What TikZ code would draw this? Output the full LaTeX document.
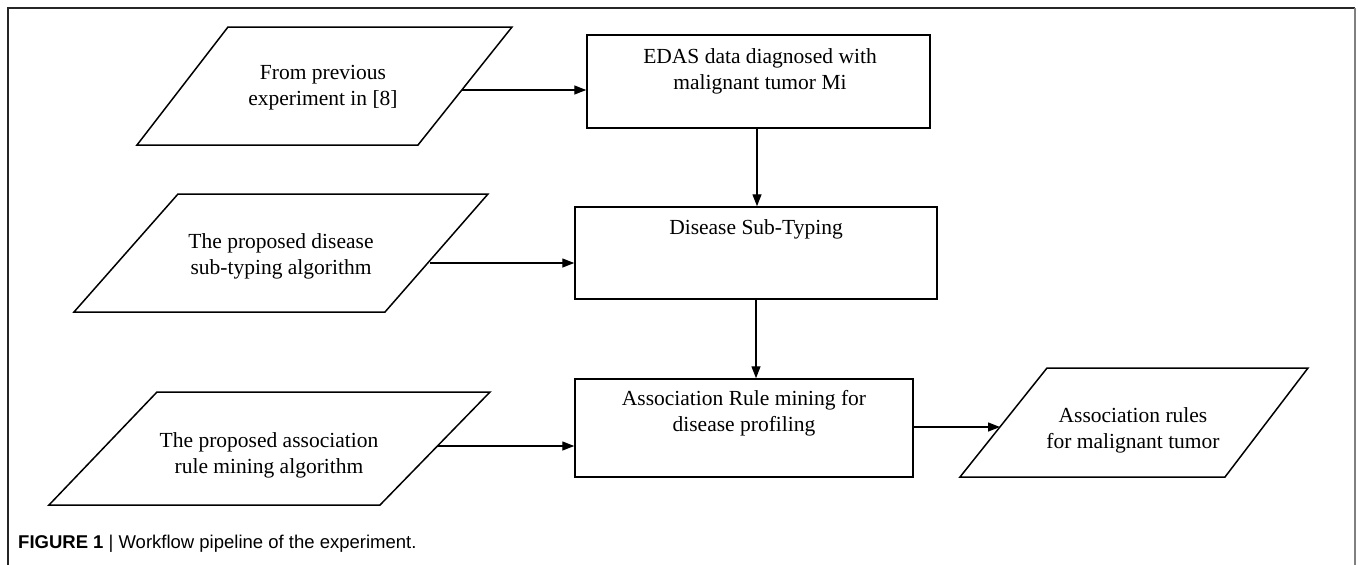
\documentclass[tikz,border=0pt]{standalone}
\usepackage{fontspec}
\setmainfont{Liberation Serif}
\newfontfamily\capfont{Liberation Sans}
\usetikzlibrary{arrows.meta}
\begin{document}
\begin{tikzpicture}[x=1pt,y=-1pt,
  shapeline/.style={draw=black,line width=1.5pt,line join=miter},
  boxnode/.style={shapeline,rectangle,inner sep=0pt},
  txt/.style={align=center,font=\fontsize{21.5}{26}\selectfont,inner sep=0pt},
  conn/.style={line width=1.4pt,-{Triangle[length=12pt,width=9pt]}}]
\useasboundingbox (0,0) rectangle (1358,565);
% frame
\draw[line width=2pt,black!85] (8,566) -- (8,8) -- (1355,8);
\draw[line width=2.5pt,black!50] (1355,8) -- (1355,566);
% process boxes
\node[boxnode,minimum width=343pt,minimum height=93pt] (box1) at (758.5,81.5) {};
\node[boxnode,minimum width=362pt,minimum height=92pt] (box2) at (756,253) {};
\node[boxnode,minimum width=338pt,minimum height=98pt] (box3) at (744,428) {};
\node[txt] (t1) at (760,71) {EDAS data diagnosed with\\malignant tumor Mi};
\node[txt] (t2) at (756,229) {Disease Sub-Typing};
\node[txt] (t3) at (744,413) {Association Rule mining for\\disease profiling};
% data parallelograms
\draw[shapeline] (228,27) -- (512,27) -- (418,145) -- (137,145) -- cycle;
\draw[shapeline] (178,194) -- (488,194) -- (385,312) -- (74,312) -- cycle;
\draw[shapeline] (157,392) -- (490,392) -- (380,505) -- (49,505) -- cycle;
\draw[shapeline] (1047,368) -- (1308,368) -- (1225,477) -- (960,477) -- cycle;
\node[txt] (d1) at (323,88) {From previous\\experiment in [8]};
\node[txt] (d2) at (281,256) {The proposed disease\\sub-typing algorithm};
\node[txt] (d3) at (269,455) {The proposed association\\rule mining algorithm};
\node[txt] (d4) at (1133,430) {Association rules\\for malignant tumor};
\coordinate (p1out) at (462,90);
\coordinate (p2out) at (430,263);
\coordinate (p3out) at (437,446);
\coordinate (p4in) at (1000,427);
% connectors
\draw[conn] (p1out) -- (box1.west |- p1out);
\draw[conn] (box1.south -| 757,0) -- (box2.north -| 757,0);
\draw[conn] (p2out) -- (box2.west |- p2out);
\draw[conn] (box2.south -| 756,0) -- (box3.north -| 756,0);
\draw[conn] (p3out) -- (box3.west |- p3out);
\draw[conn] (box3.east |- p4in) -- (p4in);
% caption
\node[anchor=base west,inner sep=0pt,font=\capfont\fontsize{18.5}{22}\selectfont] (cap) at (18,548) {\textbf{FIGURE 1} | Workflow pipeline of the experiment.};
\end{tikzpicture}
\end{document}
